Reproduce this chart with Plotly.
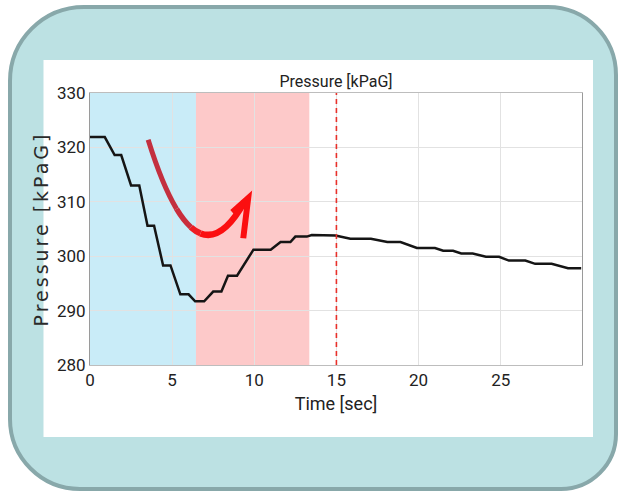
import plotly.graph_objects as go

# ---------------- data ----------------
time_s = [0, 0.9, 1.5, 1.9, 2.5, 3.0, 3.5, 3.9, 4.45, 4.9, 5.5, 6.0, 6.4, 6.95,
          7.5, 8.0, 8.4, 8.95, 9.95, 11.0, 11.6, 12.2, 12.5, 13.2, 13.5, 14.94,
          15.85, 17.1, 18.1, 18.9, 19.9, 21.0, 21.5, 22.1, 22.6, 23.3, 24.1, 24.9,
          25.5, 26.5, 27.1, 28.1, 29.1, 29.9]
pressure_kpag = [321.9, 321.9, 318.6, 318.6, 313.0, 313.0, 305.6, 305.6, 298.3, 298.3,
                 293.0, 293.0, 291.7, 291.7, 293.5, 293.5, 296.4, 296.4, 301.2, 301.2,
                 302.6, 302.6, 303.6, 303.6, 303.9, 303.8, 303.2, 303.2, 302.6, 302.6,
                 301.5, 301.5, 301.0, 301.0, 300.5, 300.5, 299.9, 299.9, 299.2, 299.2,
                 298.6, 298.6, 297.8, 297.8]
x_ticks = [0, 5, 10, 15, 20, 25]
y_ticks = [280, 290, 300, 310, 320, 330]
depress_span = [0, 6.45]
recover_span = [6.45, 13.35]
event_time = 15
arrow_start = (3.54, 321.4)
arrow_ctrl = (6.4, 293.6)
arrow_end = (9.4, 310.0)
arrow_head = [(8.66, 308.1), (9.63, 310.7), (9.33, 303.3)]

# ---------------- layout geometry ----------------
W, H = 618, 493
ML, MR, MT, MB = 90, 36, 93, 128
PW, PH = W - ML - MR, H - MT - MB


def px(x):
    return (x - ML) / PW


def py(y):
    return 1 - (y - MT) / PH


def rounded_rect(x0, y0, x1, y1, radii):
    k = 0.5523
    rtl, rtr, rbr, rbl = radii
    pts = []
    pts.append(f"M {px(x0 + rtl)},{py(y0)}")
    pts.append(f"L {px(x1 - rtr)},{py(y0)}")
    pts.append(f"C {px(x1 - rtr + k * rtr)},{py(y0)} {px(x1)},{py(y0 + rtr - k * rtr)} {px(x1)},{py(y0 + rtr)}")
    pts.append(f"L {px(x1)},{py(y1 - rbr)}")
    pts.append(f"C {px(x1)},{py(y1 - rbr + k * rbr)} {px(x1 - rbr + k * rbr)},{py(y1)} {px(x1 - rbr)},{py(y1)}")
    pts.append(f"L {px(x0 + rbl)},{py(y1)}")
    pts.append(f"C {px(x0 + rbl - k * rbl)},{py(y1)} {px(x0)},{py(y1 - rbl + k * rbl)} {px(x0)},{py(y1 - rbl)}")
    pts.append(f"L {px(x0)},{py(y0 + rtl)}")
    pts.append(f"C {px(x0)},{py(y0 + rtl - k * rtl)} {px(x0 + rtl - k * rtl)},{py(y0)} {px(x0 + rtl)},{py(y0)}")
    pts.append("Z")
    return " ".join(pts)


NARROW = "Roboto, sans-serif"

fig = go.Figure()
fig.add_trace(go.Scatter(x=time_s, y=pressure_kpag, mode="lines",
                         line=dict(color="#151515", width=2.5), showlegend=False))

shapes = []
# outer teal rounded card
shapes.append(dict(type="path", xref="paper", yref="paper", layer="below",
                   path=rounded_rect(10, 7, 616, 489, (74, 68, 55, 70)),
                   fillcolor="#bce1e3", line=dict(color="#88a8aa", width=4)))
# white panel
shapes.append(dict(type="rect", xref="paper", yref="paper", layer="below",
                   x0=px(43.5), x1=px(593), y0=py(437), y1=py(60),
                   fillcolor="white", line=dict(width=0)))
# spans
shapes.append(dict(type="rect", xref="x", yref="paper", layer="below",
                   x0=depress_span[0], x1=depress_span[1], y0=0, y1=1,
                   fillcolor="#c9ecf8", line=dict(width=0)))
shapes.append(dict(type="rect", xref="x", yref="paper", layer="below",
                   x0=recover_span[0], x1=recover_span[1], y0=0, y1=1,
                   fillcolor="#fdc9c9", line=dict(width=0)))
# event line
shapes.append(dict(type="line", xref="x", yref="paper", layer="above",
                   x0=event_time, x1=event_time, y0=0, y1=1,
                   line=dict(color="#e8302a", width=1.6, dash="5px,4px")))


# arrow as segmented quadratic bezier (colour gradient)
def qpoint(s):
    a = (1 - s) ** 2
    b = 2 * s * (1 - s)
    c = s ** 2
    return (a * arrow_start[0] + b * arrow_ctrl[0] + c * arrow_end[0],
            a * arrow_start[1] + b * arrow_ctrl[1] + c * arrow_end[1])


def qderiv(s):
    return (2 * (1 - s) * (arrow_ctrl[0] - arrow_start[0]) + 2 * s * (arrow_end[0] - arrow_ctrl[0]),
            2 * (1 - s) * (arrow_ctrl[1] - arrow_start[1]) + 2 * s * (arrow_end[1] - arrow_ctrl[1]))


seg_bounds = [0.0, 0.3, 0.45, 0.55, 1.0]
seg_colors = ["#c3303f", "#c92d3c", "#ee1c22", "#fb0f10"]
seg_widths = [5, 5.5, 6, 6.5]
for i in range(len(seg_colors)):
    s0, s1 = seg_bounds[i], seg_bounds[i + 1]
    p0, p1 = qpoint(s0), qpoint(s1)
    d0 = qderiv(s0)
    h = (s1 - s0) / 2
    cp = (p0[0] + d0[0] * h, p0[1] + d0[1] * h)
    shapes.append(dict(type="path", xref="x", yref="y", layer="above",
                       path=f"M {p0[0]},{p0[1]} Q {cp[0]},{cp[1]} {p1[0]},{p1[1]}",
                       line=dict(color=seg_colors[i], width=seg_widths[i])))
hp = arrow_head
shapes.append(dict(type="path", xref="x", yref="y", layer="above",
                   path=f"M {hp[0][0]},{hp[0][1]} L {hp[1][0]},{hp[1][1]} L {hp[2][0]},{hp[2][1]}",
                   line=dict(color="#fb0f10", width=6)))

fig.update_layout(
    width=W, height=H,
    margin=dict(l=ML, r=MR, t=MT, b=MB, pad=0),
    paper_bgcolor="white",
    plot_bgcolor="rgba(0,0,0,0)",
    shapes=shapes,
    showlegend=False,
    title=dict(text="Pressure [kPaG]", x=0.5, xref="paper", xanchor="center",
               y=1 - 81 / H, yref="container", yanchor="middle",
               font=dict(family=NARROW, size=16, color="#222")),
)
fig.update_xaxes(range=[0, 29.95], tickvals=x_ticks, ticktext=[str(v) for v in x_ticks],
                 showgrid=True, gridcolor="#e2e2e2", gridwidth=1, zeroline=False,
                 showline=True, linecolor="#bdbdbd", linewidth=1, mirror=True,
                 ticks="", tickfont=dict(family=NARROW, size=17, color="#222"),
                 title=dict(text="Time [sec]", standoff=7,
                            font=dict(family=NARROW, size=18, color="#222")))
fig.update_yaxes(range=[280, 330], tickvals=y_ticks, ticktext=[str(v) for v in y_ticks],
                 showgrid=True, gridcolor="#e2e2e2", gridwidth=1, zeroline=False,
                 showline=True, linecolor="#9a9a9a", linewidth=1, mirror=True,
                 ticks="", tickfont=dict(family=NARROW, size=17, color="#222"),
                 title=dict(text='<span style="letter-spacing:3px">Pressure [kPaG]</span>', standoff=3,
                            font=dict(family="DejaVu Sans", size=19, color="#2a2a2a")))

fig.write_html("out.html")
